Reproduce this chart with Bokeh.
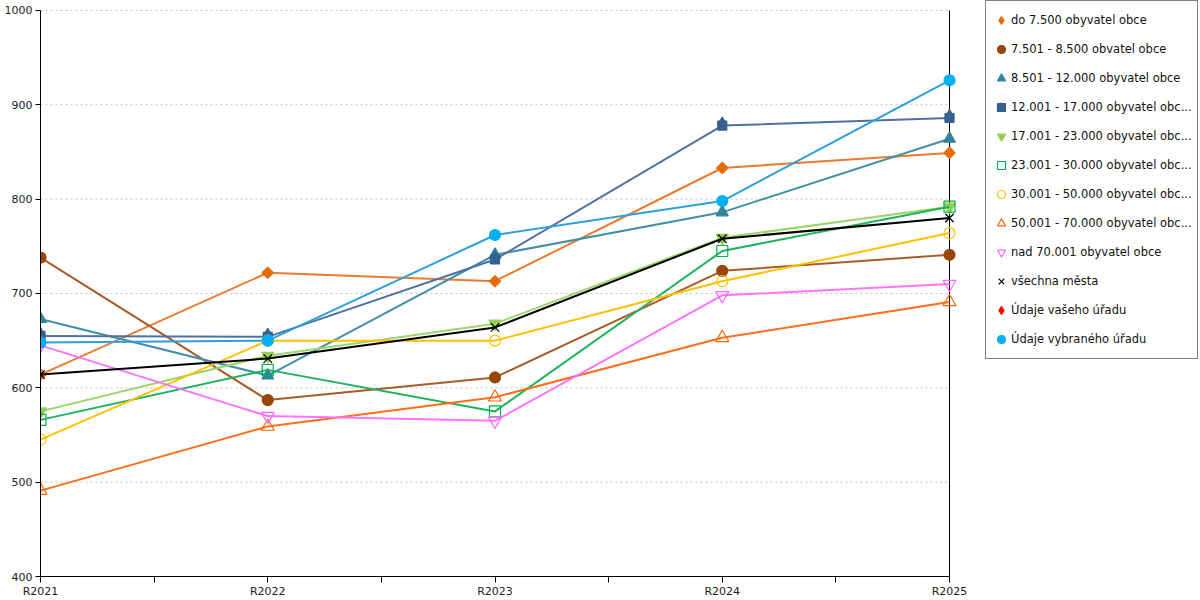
import math
from bokeh.plotting import figure
from bokeh.models import FixedTicker, LinearAxis, Legend, LegendItem, Range1d, ColumnDataSource
from bokeh.transform import dodge
from bokeh.embed import file_html
from bokeh.resources import INLINE

NAN = float("nan")

roky = ["R2021", "R2022", "R2023", "R2024", "R2025"]

do_7500 = [614, 722, 713, 833, 849]
r7501_8500 = [738, 587, 611, 724, 741]
r8501_12000 = [673, 613, 741, 786, 864]
r12001_17000 = [655, 654, 736, 878, 886]
r17001_23000 = [575, 634, 668, 759, 792]
r23001_30000 = [566, 619, 575, 745, 792]
r30001_50000 = [545, 650, 650, 713, 764]
r50001_70000 = [491, 559, 590, 653, 691]
nad_70001 = [645, 570, 565, 698, 710]
vsechna_mesta = [614, 631, 664, 758, 780]
vaseho_uradu = [NAN, NAN, NAN, NAN, NAN]
vybraneho_uradu = [648, 650, 762, 798, 926]

nazvy = [
    "do 7.500 obyvatel obce",
    "7.501 - 8.500 obvatel obce",
    "8.501 - 12.000 obyvatel obce",
    "12.001 - 17.000 obyvatel obc...",
    "17.001 - 23.000 obyvatel obc...",
    "23.001 - 30.000 obyvatel obc...",
    "30.001 - 50.000 obyvatel obc...",
    "50.001 - 70.000 obyvatel obc...",
    "nad 70.001 obyvatel obce",
    "všechna města",
    "Údaje vašeho úřadu",
    "Údaje vybraného úřadu",
]

y_ticks = [400, 500, 600, 700, 800, 900, 1000]

FONT = "DejaVu Sans"

# layout (pixels): plot area from x=40 to x=949, y=10 to y=579; legend to the right
W, H = 1200, 600
LEFT, RIGHT_X, TOP_Y, BOTTOM = 40, 949, 10, 21
frame_w = W - LEFT
frame_h = H - BOTTOM
xs = list(range(len(roky)))
x_end = (len(roky) - 1) * frame_w / (RIGHT_X - LEFT)
y_end = y_ticks[0] + (y_ticks[-1] - y_ticks[0]) * frame_h / (frame_h - TOP_Y)

p = figure(width=W, height=H, output_backend="svg", toolbar_location=None,
           x_range=Range1d(0, x_end), y_range=Range1d(y_ticks[0], y_end),
           min_border=0, min_border_left=LEFT, min_border_right=0, min_border_top=0,
           min_border_bottom=BOTTOM,
           x_axis_type=None, y_axis_type=None)
p.outline_line_color = None
p.background_fill_color = "white"
p.border_fill_color = "white"
p.grid.visible = False

# axes
xaxis = LinearAxis(ticker=FixedTicker(ticks=xs, minor_ticks=[i + 0.5 for i in xs[:-1]]),
                   major_label_overrides={i: r for i, r in enumerate(roky)},
                   bounds=(xs[0], xs[-1]))
xaxis.axis_line_color = "black"
xaxis.major_tick_line_color = "black"
xaxis.minor_tick_line_color = "black"
xaxis.major_tick_out = 6
xaxis.major_tick_in = 0
xaxis.minor_tick_out = 6
xaxis.minor_tick_in = 0
xaxis.major_label_standoff = 2
xaxis.major_label_text_font = FONT
xaxis.major_label_text_font_size = "11px"
xaxis.major_label_text_color = "#222222"
p.add_layout(xaxis, "below")

yaxis = LinearAxis(ticker=FixedTicker(ticks=y_ticks, minor_ticks=[]),
                   bounds=(y_ticks[0], y_ticks[-1]))
yaxis.axis_line_color = "black"
yaxis.major_tick_line_color = "black"
yaxis.major_tick_out = 5
yaxis.major_tick_in = 0
yaxis.minor_tick_line_color = None
yaxis.major_label_standoff = 3
yaxis.major_label_text_font = FONT
yaxis.major_label_text_font_size = "11px"
yaxis.major_label_text_color = "#222222"
p.add_layout(yaxis, "left")

# dashed horizontal grid lines across the plot area
grid_y = y_ticks[1:]
p.segment(x0=[xs[0]] * len(grid_y), y0=grid_y, x1=[xs[-1]] * len(grid_y), y1=grid_y,
          line_color="#BFBFBF", line_width=1, line_dash="2 3")
# right border line of the plot area
p.segment(x0=[xs[-1]], y0=[y_ticks[0]], x1=[xs[-1]], y1=[y_ticks[-1]],
          line_color="black", line_width=1)

D = math.pi / 4  # square turned into a diamond
# (values, line colour, plot markers, legend-only marker)
series = [
    (do_7500, "#E97A2E", [("square", 8, "#E36C0A", "#E36C0A", 0, D)], "diamond"),
    (r7501_8500, "#A65C2A", [("circle", 11, "#974806", "#974806", 0, 0)], None),
    (r8501_12000, "#4290A8", [("triangle", 12, "#31849B", "#31849B", 0, 0)], None),
    (r12001_17000, "#4E72A0", [("square", 9, "#376092", "#376092", 0, 0),
                               ("triangle", 9, "#376092", "#376092", 3.5, 0)], None),
    (r17001_23000, "#9DD46B", [("inverted_triangle", 12, "#92D050", "#92D050", 0, 0)], None),
    (r23001_30000, "#1DB35E", [("square", 11, None, "#00B050", 0, 0)], None),
    (r30001_50000, "#FFC000", [("circle", 11, None, "#FFC000", 0, 0)], None),
    (r50001_70000, "#FF6E1A", [("triangle", 13, None, "#FF6600", 0, 0)], None),
    (nad_70001, "#FF73FF", [("inverted_triangle", 13, None, "#FF66FF", 0, 0)], None),
    (vsechna_mesta, "#000000", [("x", 12, None, "#000000", 0, 0)], None),
    (vaseho_uradu, "#FF0000", [("square", 8, "#FF0000", "#FF0000", 0, D)], "diamond"),
    (vybraneho_uradu, "#2E9FD9", [("circle", 11, "#00B0F0", "#00B0F0", 0, 0)], None),
]

items = []
for (vals, lcol, marks, leg_marker), name in zip(series, nazvy):
    src = ColumnDataSource(data=dict(x=xs, y=vals))
    p.line("x", "y", source=src, line_color=lcol, line_width=2)
    rends = []
    for (m, size, fill, line, off, ang) in marks:
        ycol = dodge("y", off, range=p.y_range) if off else "y"
        r = p.scatter("x", ycol, source=src, marker=m, size=size, angle=ang,
                      fill_color=fill, fill_alpha=1.0 if fill else 0.0,
                      line_color=line, line_width=1.2)
        rends.append(r)
    if leg_marker:
        fill, line = marks[0][2], marks[0][3]
        r = p.scatter(x=[NAN], y=[NAN], marker=leg_marker, size=12,
                      fill_color=fill, line_color=line, line_width=1.2)
        rends = [r]
    items.append(LegendItem(label=name, renderers=rends))

LEG_X, LEG_TOP = 985, 0
LEG_H = 362
legend = Legend(items=items, location=(LEG_X - LEFT, frame_h - LEG_H - LEG_TOP + 0))
legend.location = (LEG_X - LEFT, 217)
legend.label_text_font = FONT
legend.label_text_font_size = "11.5px"
legend.label_text_color = "#111111"
legend.glyph_width = 20
legend.glyph_height = 28
legend.label_height = 28
legend.label_standoff = 0
legend.spacing = 1
legend.padding = 5
legend.margin = 0
legend.border_line_color = "black"
legend.border_line_width = 1
legend.background_fill_color = "white"
legend.background_fill_alpha = 1.0
p.add_layout(legend, "center")

open("out.html", "w").write(file_html(p, INLINE))
